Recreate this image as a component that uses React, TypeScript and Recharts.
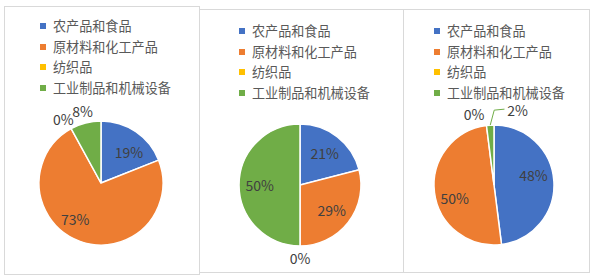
import { PieChart, Pie, Cell, Legend } from "recharts";

const categories = ["农产品和食品", "原材料和化工产品", "纺织品", "工业制品和机械设备"];
const colors = ["#4472C4", "#ED7D31", "#FFC000", "#70AD47"];

const share_a = [19, 73, 0, 8];
const share_b = [21, 29, 0, 50];
const share_c = [48, 50, 0, 2];

const font = "'Noto Sans CJK SC', 'Noto Sans', sans-serif";
const RAD = Math.PI / 180;

type Nudge = { dx: number; dy: number; leader?: boolean };

type PanelProps = {
  values: number[];
  left: number;
  top: number;
  width: number;
  height: number;
  cx: number;
  cy: number;
  r: number;
  legendLeft: number;
  legendTop: number;
  nudges?: Record<number, Nudge>;
};

function LegendBox() {
  return (
    <div style={{ fontFamily: font, fontSize: 13.1, color: "#595959", lineHeight: "14px" }}>
      {categories.map((name, i) => (
        <div
          key={i}
          style={{
            display: "flex",
            alignItems: "center",
            height: 14,
            marginBottom: i < categories.length - 1 ? 6.5 : 0,
          }}
        >
          <span style={{ width: 6, height: 6, background: colors[i], marginRight: 7, flexShrink: 0 }} />
          <span style={{ whiteSpace: "nowrap" }}>{name}</span>
        </div>
      ))}
    </div>
  );
}

function PiePanel(p: PanelProps) {
  const data = categories.map((name, i) => ({ name, value: p.values[i] }));

  // excel-like data labels: inside for big slices, outside for small ones
  const renderLabel = (props: any) => {
    const { cx, cy, midAngle, outerRadius, index, value } = props;
    const cos = Math.cos(-midAngle * RAD);
    const sin = Math.sin(-midAngle * RAD);
    const outside = value < 10;
    const rr = outside ? outerRadius + 12 : outerRadius * 0.66;
    let x = cx + rr * cos;
    let y = cy + rr * sin;
    const n = p.nudges?.[index];
    if (n) {
      x += n.dx;
      y += n.dy;
    }
    const text = (
      <text
        x={x}
        y={y}
        fill="#404040"
        fontSize={14}
        fontFamily={font}
        textAnchor="middle"
        dominantBaseline="central"
      >
        {`${value}%`}
      </text>
    );
    if (n?.leader) {
      const ex = cx + outerRadius * cos;
      const ey = cy + outerRadius * sin;
      return (
        <g key={`l-${index}`}>
          <polyline
            points={`${ex},${ey} ${ex + 4},${y} ${x - 13},${y - 1}`}
            fill="none"
            stroke="#70AD47"
            strokeWidth={1}
          />
          {text}
        </g>
      );
    }
    return <g key={`l-${index}`}>{text}</g>;
  };

  return (
    <div
      style={{
        position: "absolute",
        left: p.left,
        top: p.top,
        width: p.width,
        height: p.height,
        border: "1px solid #d9d9d9",
        background: "#fff",
      }}
    >
      <PieChart
        width={p.width - 2}
        height={p.height - 2}
        margin={{ top: 0, right: 0, bottom: 0, left: 0 }}
      >
        <Legend
          content={() => <LegendBox />}
          wrapperStyle={{ left: p.legendLeft, top: p.legendTop, bottom: "auto", width: "auto" }}
        />
        <Pie
          data={data}
          dataKey="value"
          nameKey="name"
          cx={p.cx}
          cy={p.cy}
          outerRadius={p.r}
          startAngle={90}
          endAngle={-270}
          stroke="#ffffff"
          strokeWidth={1.5}
          labelLine={false}
          label={renderLabel}
          isAnimationActive={false}
        >
          {data.map((_, i) => (
            <Cell key={i} fill={colors[i]} />
          ))}
        </Pie>
      </PieChart>
    </div>
  );
}

export default function App() {
  return (
    <div
      style={{
        position: "absolute",
        left: 0,
        top: 0,
        width: 593,
        height: 275,
        background: "#ffffff",
        overflow: "hidden",
      }}
    >
      <PiePanel
        values={share_a}
        left={4}
        top={6}
        width={194}
        height={267}
        cx={96}
        cy={176}
        r={62}
        legendLeft={35}
        legendTop={12}
        nudges={{ 0: { dx: 5, dy: 3 }, 1: { dx: -12, dy: -3 }, 2: { dx: -2, dy: 1 } }}
      />
      <PiePanel
        values={share_b}
        left={199}
        top={9}
        width={203}
        height={262}
        cx={100}
        cy={175}
        r={61}
        legendLeft={39}
        legendTop={14}
      />
      <PiePanel
        values={share_c}
        left={403}
        top={9}
        width={185}
        height={262}
        cx={90}
        cy={175}
        r={60}
        legendLeft={30}
        legendTop={14}
        nudges={{
          0: { dx: 0, dy: -8 },
          1: { dx: 0, dy: 8 },
          2: { dx: -11, dy: 0 },
          3: { dx: 28, dy: -3, leader: true },
        }}
      />
    </div>
  );
}
